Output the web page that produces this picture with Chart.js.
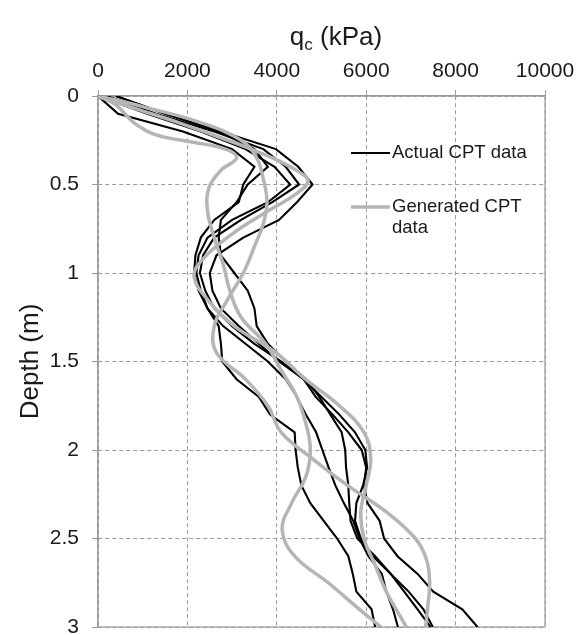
<!DOCTYPE html>
<html>
<head>
<meta charset="utf-8">
<script src="https://cdn.jsdelivr.net/npm/chart.js@4.4.0/dist/chart.umd.min.js"></script>
<style>
  html, body { margin: 0; padding: 0; background: #fff; }
  #cpt { display: block; }
</style>
</head>
<body>
<canvas id="cpt" width="584" height="635"></canvas>
<script>
// measured profiles share one depth column (m)
const actualDepth = [0, 0.1, 0.2, 0.3, 0.4, 0.5, 0.6, 0.7, 0.8, 0.9, 1.0, 1.1, 1.2, 1.3, 1.4, 1.5,
  1.6, 1.7, 1.8, 1.9, 2.0, 2.1, 2.2, 2.3, 2.4, 2.5, 2.6, 2.7, 2.8, 2.9, 3.0];

// qc (kPa) of the actual CPT soundings
const actual1 = [400, 1500, 2750, 3980, 4480, 4800, 4450, 4050, 3250, 2650, 2500, 2560, 2750, 3150, 3600, 4050,
  4600, 4870, 5250, 5600, 5900, 6000, 5950, 6030, 6300, 6400, 6700, 7150, 7500, 8150, 8490];
const actual2 = [200, 1300, 2600, 3700, 4200, 4500, 3900, 3200, 2600, 2350, 2280, 2400, 2600, 3000, 3500, 4100,
  4600, 5000, 5400, 5750, 5980, 6020, 5930, 5780, 5750, 5880, 6150, 6550, 6950, 7280, 7490];
const actual3 = [0, 1100, 2300, 3300, 3950, 4300, 3800, 3000, 2450, 2250, 2200, 2300, 2450, 2800, 3300, 3800,
  4200, 4450, 4650, 4880, 5020, 5160, 5310, 5500, 5710, 5850, 6050, 6350, 6450, 6600, 6710];
const actual4 = [0, 450, 1900, 3000, 3500, 3250, 3150, 2600, 2300, 2180, 2150, 2250, 2450, 2700, 2750, 2780,
  3100, 3600, 3850, 4400, 4420, 4470, 4550, 4750, 5050, 5350, 5600, 5700, 5780, 6120, 6200];
const actual5 = [400, 1500, 2700, 3500, 3800, 3350, 3100, 2750, 2700, 2750, 3050, 3350, 3500, 3550, 3800, 4200,
  4650, 4950, 5200, 5450, 5530, 5550, 5600, 5620, 5650, 5800, 6200, 6550, 6850, 7150, 7440];

// generated profiles, each with its own depth column
const genDepthA = [0, 0.06, 0.15, 0.25, 0.35, 0.43, 0.48, 0.55, 0.65, 0.78, 0.92, 1.02, 1.15, 1.3, 1.45, 1.6,
  1.75, 1.9, 2.05, 2.2, 2.35, 2.5, 2.65, 2.8, 3.0];
const genQcA = [0, 700, 1800, 2900, 3900, 4500, 4700, 4450, 3800, 3000, 2350, 2150, 2450, 3050, 3980, 4640,
  5400, 5950, 6100, 6000, 5880, 5950, 6200, 6450, 6900];
const genDepthB = [0, 0.05, 0.15, 0.22, 0.26, 0.3, 0.35, 0.42, 0.52, 0.65, 0.8, 0.95, 1.1, 1.25, 1.4, 1.55,
  1.7, 1.85, 2.0, 2.15, 2.3, 2.45, 2.6, 2.75, 2.9, 3.0];
const genQcB = [0, 400, 800, 1300, 2100, 2850, 3100, 2750, 2480, 2450, 2600, 2800, 2950, 3200, 3750, 4100,
  4450, 4650, 4750, 4650, 4330, 4120, 4400, 5150, 5850, 6330];
const genDepthC = [0, 0.06, 0.15, 0.25, 0.35, 0.47, 0.6, 0.72, 0.85, 1.0, 1.15, 1.3, 1.45, 1.6, 1.75, 1.9,
  2.05, 2.2, 2.35, 2.5, 2.62, 2.75, 2.88, 3.0];
const genQcC = [0, 1000, 2300, 3200, 3550, 3700, 3780, 3700, 3500, 3250, 2900, 2600, 2650, 3300, 3800, 4100,
  4800, 5580, 6450, 7100, 7350, 7420, 7380, 7330];

const xTicks = [0, 2000, 4000, 6000, 8000, 10000];
const xTickLabels = ['0', '2000', '4000', '6000', '8000', '10000'];
const yTicks = [0, 0.5, 1, 1.5, 2, 2.5, 3];
const yTickLabels = ['0', '0.5', '1', '1.5', '2', '2.5', '3'];
const legendActual = ['Actual CPT data'];
const legendGenerated = ['Generated CPT', 'data'];

const FONT = "'Liberation Sans', Arial, sans-serif";
const BLACK = '#000000';
const GREY = '#b5b5b5';
const GRID = '#9a9a9a';

const toPoints = (depth, qc) => qc.map((q, i) => ({ x: q, y: depth[i] }));
const labelFor = (ticks, names, v) => {
  const i = ticks.findIndex(t => Math.abs(t - v) < 1e-6);
  return i < 0 ? '' : names[i];
};

const actualSet = (qc) => ({
  data: toPoints(actualDepth, qc),
  showLine: true,
  borderColor: BLACK,
  borderWidth: 2.1,
  tension: 0,
  pointRadius: 0,
  order: 2
});
const generatedSet = (depth, qc) => ({
  data: toPoints(depth, qc),
  showLine: true,
  borderColor: GREY,
  borderWidth: 3.5,
  tension: 0.4,
  pointRadius: 0,
  order: 1
});

// solid box round the plot; the inner grid stays dashed
const frame = {
  id: 'frame',
  beforeDatasetsDraw(chart) {
    const { ctx, chartArea: a } = chart;
    ctx.save();
    ctx.strokeStyle = GRID;
    ctx.lineWidth = 1.2;
    ctx.strokeRect(a.left, a.top, a.right - a.left, a.bottom - a.top);
    ctx.restore();
  }
};

// axis titles (qc needs a subscript) and the legend inside the plot
const labels = {
  id: 'labels',
  afterDraw(chart) {
    const { ctx, chartArea: a } = chart;
    ctx.save();
    ctx.fillStyle = '#1a1a1a';

    // qc (kPa), sitting a little right of the plot centre as in the original
    const big = '26px ' + FONT, small = '17px ' + FONT;
    ctx.font = big;
    const wq = ctx.measureText('q').width;
    const wRest = ctx.measureText(' (kPa)').width;
    ctx.font = small;
    const wc = ctx.measureText('c').width;
    let x = 336 - (wq + wc + wRest) / 2;
    const base = 45;
    ctx.textBaseline = 'alphabetic';
    ctx.textAlign = 'left';
    ctx.font = big; ctx.fillText('q', x, base); x += wq;
    ctx.font = small; ctx.fillText('c', x, base + 5); x += wc;
    ctx.font = big; ctx.fillText(' (kPa)', x, base);

    // Depth (m)
    ctx.translate(38, (a.top + a.bottom) / 2);
    ctx.rotate(-Math.PI / 2);
    ctx.textAlign = 'center';
    ctx.textBaseline = 'alphabetic';
    ctx.font = '26px ' + FONT;
    ctx.fillText('Depth (m)', 0, 0);
    ctx.setTransform(1, 0, 0, 1, 0, 0);

    // legend
    const lx = 351, lw = 39, tx = 392;
    ctx.textAlign = 'left';
    ctx.textBaseline = 'middle';
    ctx.font = '18.5px ' + FONT;
    ctx.lineCap = 'butt';
    ctx.strokeStyle = BLACK; ctx.lineWidth = 2;
    ctx.beginPath(); ctx.moveTo(lx, 153); ctx.lineTo(lx + lw, 153); ctx.stroke();
    legendActual.forEach((t, i) => ctx.fillText(t, tx, 153 + i * 21));
    ctx.strokeStyle = GREY; ctx.lineWidth = 3.5;
    ctx.beginPath(); ctx.moveTo(lx, 207); ctx.lineTo(lx + lw, 207); ctx.stroke();
    legendGenerated.forEach((t, i) => ctx.fillText(t, tx, 207 + i * 21));
    ctx.restore();
  }
};

new Chart(document.getElementById('cpt'), {
  type: 'scatter',
  data: {
    datasets: [
      actualSet(actual1), actualSet(actual2), actualSet(actual3), actualSet(actual4), actualSet(actual5),
      generatedSet(genDepthA, genQcA), generatedSet(genDepthB, genQcB), generatedSet(genDepthC, genQcC)
    ]
  },
  options: {
    responsive: false,
    animation: false,
    layout: { padding: { left: 0, top: 0, right: 39, bottom: 8 } },
    plugins: { legend: { display: false }, tooltip: { enabled: false } },
    scales: {
      x: {
        type: 'linear',
        position: 'top',
        min: 0,
        max: 10000,
        afterFit: (s) => { s.height = 96; s.paddingLeft = 0; s.paddingRight = 0; },
        ticks: {
          stepSize: 2000,
          padding: 6,
          color: '#1a1a1a',
          font: { family: FONT, size: 21 },
          callback: (v) => labelFor(xTicks, xTickLabels, v)
        },
        grid: { color: GRID, lineWidth: 1, tickLength: 6, tickColor: GRID },
        border: { display: true, color: GRID, width: 1.2, dash: [4, 3] }
      },
      y: {
        type: 'linear',
        reverse: true,
        min: 0,
        max: 3,
        afterFit: (s) => { s.width = 98; s.paddingTop = 0; s.paddingBottom = 0; },
        ticks: {
          stepSize: 0.5,
          padding: 13,
          color: '#1a1a1a',
          font: { family: FONT, size: 21 },
          callback: (v) => labelFor(yTicks, yTickLabels, v)
        },
        grid: { color: GRID, lineWidth: 1, tickLength: 6, tickColor: GRID },
        border: { display: true, color: GRID, width: 1.2, dash: [4, 3] }
      }
    }
  },
  plugins: [frame, labels]
});
</script>
</body>
</html>
